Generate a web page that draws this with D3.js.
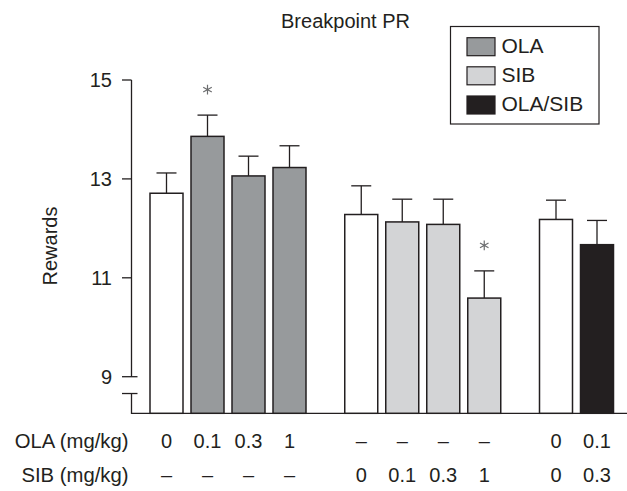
<!DOCTYPE html>
<html><head><meta charset="utf-8">
<script src="https://cdn.jsdelivr.net/npm/d3@7"></script>
<style>
html,body{margin:0;padding:0;background:#fff;}
svg text{font-family:"Liberation Sans",Arial,Helvetica,sans-serif;fill:#231f20;}
</style></head>
<body>
<svg id="chart" width="627" height="491"></svg>
<script>
// ---- data ----
const groups = [0,0,0,0,1,1,1,1,2,2];
const series = ["control","OLA","OLA","OLA","control","SIB","SIB","SIB","control","OLA/SIB"];
const values = [12.71,13.86,13.06,13.23,12.28,12.13,12.08,10.59,12.18,11.67];
const errors = [0.41,0.43,0.40,0.44,0.58,0.46,0.51,0.55,0.39,0.49];
const significant = [false,true,false,false,false,false,false,true,false,false];
const olaLabels = ["0","0.1","0.3","1","–","–","–","–","0","0.1"];
const sibLabels = ["–","–","–","–","0","0.1","0.3","1","0","0.3"];
const yTicks = [9,11,13,15];
const legendItems = ["OLA","SIB","OLA/SIB"];

const colors = {"control":"#ffffff","OLA":"#979a9c","SIB":"#d3d4d6","OLA/SIB":"#231f20"};
const ink = "#231f20";

const svg = d3.select("#chart");
const fs = 20;

// scales
const y = d3.scaleLinear().domain([8.26,15]).range([413.3,80]);
const slot = (i) => i + groups[i]*0.75;
const x = d3.scaleLinear().domain([0,10.5]).range([166.5,597]);
const bw = 33, capW = 20;
const baseY = y(8.26);
const axisX = 131.5;

// title
svg.append("text").attr("x",345.5).attr("y",27.5).attr("text-anchor","middle")
  .attr("font-size",fs).text("Breakpoint PR");

// y axis (with break)
svg.append("line").attr("x1",axisX).attr("x2",axisX).attr("y1",y(15)).attr("y2",y(9))
  .attr("stroke",ink).attr("stroke-width",1.3);
svg.append("line").attr("x1",axisX).attr("x2",axisX).attr("y1",y(8.66)).attr("y2",baseY)
  .attr("stroke",ink).attr("stroke-width",1.3);
svg.append("line").attr("x1",axisX-9.5).attr("x2",axisX+6).attr("y1",y(8.66)).attr("y2",y(8.66))
  .attr("stroke",ink).attr("stroke-width",1.3);
yTicks.forEach(t=>{
  svg.append("line").attr("x1",axisX-9.5).attr("x2",t===9?axisX+6:axisX).attr("y1",y(t)).attr("y2",y(t))
    .attr("stroke",ink).attr("stroke-width",1.3);
  svg.append("text").attr("x",112).attr("y",y(t)).attr("dy","0.36em").attr("text-anchor","end")
    .attr("font-size",fs).text(t);
});
// baseline
svg.append("line").attr("x1",axisX-0.6).attr("x2",627).attr("y1",baseY).attr("y2",baseY)
  .attr("stroke",ink).attr("stroke-width",1.3);

// y label
svg.append("text").attr("transform",`translate(57,246) rotate(-90)`).attr("text-anchor","middle")
  .attr("font-size",fs).text("Rewards");

// error bars
values.forEach((v,i)=>{
  const cx = x(slot(i));
  svg.append("line").attr("x1",cx).attr("x2",cx).attr("y1",y(v)).attr("y2",y(v+errors[i]))
    .attr("stroke",ink).attr("stroke-width",1.3);
  svg.append("line").attr("x1",cx-capW/2).attr("x2",cx+capW/2).attr("y1",y(v+errors[i])).attr("y2",y(v+errors[i]))
    .attr("stroke",ink).attr("stroke-width",1.3);
  if(significant[i]){
    svg.append("path").attr("d",d3.symbol().type(d3.symbolAsterisk).size(68)())
      .attr("transform",`translate(${cx},${y(v+errors[i])-25.5})`)
      .attr("fill","none").attr("stroke","#6d6e70").attr("stroke-width",1.2);
  }
});

// bars
svg.selectAll("rect.bar").data(values).enter().append("rect").attr("class","bar")
  .attr("x",(d,i)=>x(slot(i))-bw/2).attr("width",bw)
  .attr("y",d=>y(d)).attr("height",d=>baseY-y(d))
  .attr("fill",(d,i)=>colors[series[i]]).attr("stroke",ink).attr("stroke-width",1.5);

// bottom labels
const rowOla = 448, rowSib = 482;
svg.append("text").attr("x",128.5).attr("y",rowOla).attr("text-anchor","end").attr("font-size",20.3).text("OLA (mg/kg)");
svg.append("text").attr("x",128.5).attr("y",rowSib).attr("text-anchor","end").attr("font-size",20.3).text("SIB (mg/kg)");
olaLabels.forEach((l,i)=>{
  svg.append("text").attr("x",x(slot(i))).attr("y",rowOla).attr("text-anchor","middle").attr("font-size",fs).text(l);
});
sibLabels.forEach((l,i)=>{
  svg.append("text").attr("x",x(slot(i))).attr("y",rowSib).attr("text-anchor","middle").attr("font-size",fs).text(l);
});

// legend
svg.append("rect").attr("x",450.5).attr("y",26.5).attr("width",148.5).attr("height",97.5)
  .attr("fill","#fff").attr("stroke",ink).attr("stroke-width",1.2);
const rowY = [46.7,75.8,105];
legendItems.forEach((k,i)=>{
  svg.append("rect").attr("x",467).attr("y",rowY[i]-9).attr("width",28).attr("height",18)
    .attr("fill",colors[k]).attr("stroke",ink).attr("stroke-width",1.2);
  svg.append("text").attr("x",501.5).attr("y",rowY[i]+6).attr("font-size",21).text(k);
});
</script>
</body></html>
